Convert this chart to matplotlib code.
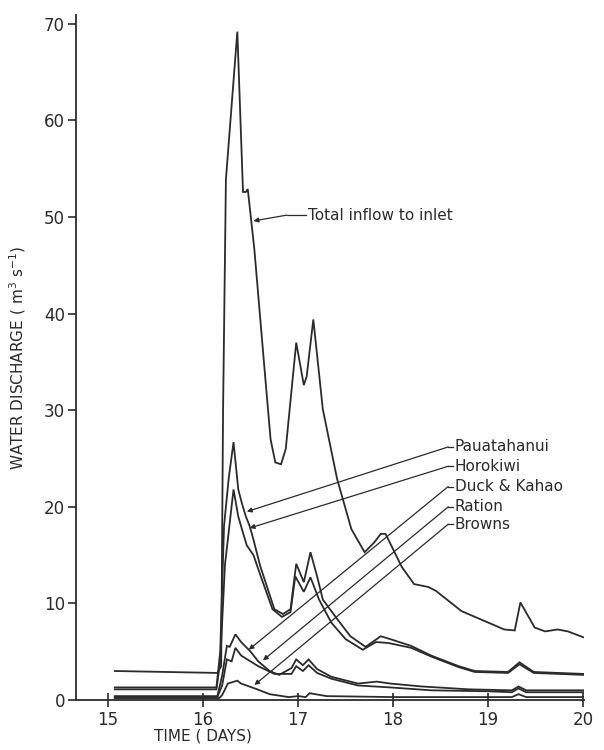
import matplotlib
matplotlib.use('Agg')
import matplotlib.pyplot as plt

# discharge hydrographs, days vs m3/s
total_t = [15.07, 16.15, 16.19, 16.21, 16.24, 16.36, 16.42, 16.45, 16.47, 16.54, 16.64, 16.71, 16.76,
           16.82, 16.87, 16.98, 17.06, 17.09, 17.16, 17.26, 17.41, 17.56, 17.70, 17.80, 17.87,
           17.92, 18.09, 18.22, 18.37, 18.45, 18.72, 19.17, 19.28, 19.34, 19.49, 19.60, 19.73,
           19.84, 20.0]
total_q = [3.0, 2.8, 3.5, 30.0, 53.9, 69.2, 52.6, 52.6, 52.9, 46.6, 35.0, 27.0, 24.6,
           24.4, 26.0, 37.0, 32.6, 33.5, 39.4, 30.1, 22.9, 17.7, 15.3, 16.3, 17.2,
           17.2, 13.8, 12.0, 11.7, 11.3, 9.2, 7.3, 7.2, 10.1, 7.5, 7.1, 7.3,
           7.1, 6.5]

paua_t = [15.07, 16.14, 16.18, 16.22, 16.27, 16.32, 16.37, 16.41, 16.45, 16.49, 16.53, 16.60,
          16.68, 16.75, 16.84, 16.92, 16.98, 17.06, 17.13, 17.20, 17.26, 17.41, 17.55, 17.71,
          17.87, 17.97, 18.19, 18.40, 18.69, 18.86, 19.21, 19.33, 19.48, 20.0]
paua_q = [1.3, 1.3, 5.0, 18.0, 23.0, 26.7, 21.8, 20.3, 19.0, 18.0, 16.6, 13.9,
          11.5, 9.4, 8.9, 9.4, 14.1, 12.2, 15.3, 12.8, 10.4, 8.4, 6.6, 5.5,
          6.6, 6.3, 5.6, 4.6, 3.5, 3.0, 2.9, 3.9, 2.9, 2.7]

horo_t = [15.07, 16.14, 16.18, 16.23, 16.32, 16.37, 16.42, 16.46, 16.53, 16.60, 16.73, 16.83,
          16.92, 16.97, 17.06, 17.13, 17.22, 17.35, 17.50, 17.68, 17.82, 17.95, 18.19, 18.40,
          18.69, 18.86, 19.21, 19.33, 19.48, 20.0]
horo_q = [1.1, 1.1, 4.0, 14.0, 21.8, 19.0, 17.3, 16.0, 15.0, 13.0, 9.4, 8.6,
          9.1, 12.8, 11.2, 12.7, 10.4, 8.0, 6.3, 5.2, 6.0, 5.9, 5.4, 4.5,
          3.4, 2.9, 2.8, 3.7, 2.8, 2.6]

duck_t = [15.07, 16.15, 16.20, 16.25, 16.28, 16.34, 16.40, 16.50, 16.58, 16.70, 16.80, 16.93,
          16.98, 17.05, 17.11, 17.20, 17.35, 17.63, 17.83, 17.97, 18.30, 18.80, 19.25, 19.32,
          19.40, 20.0]
duck_q = [0.4, 0.4, 2.5, 5.6, 5.5, 6.8, 6.0, 5.0, 4.0, 3.0, 2.6, 3.3,
          4.2, 3.6, 4.2, 3.2, 2.4, 1.7, 1.9, 1.7, 1.4, 1.1, 1.0, 1.4,
          1.0, 1.0]

ration_t = [15.07, 16.15, 16.20, 16.25, 16.30, 16.34, 16.40, 16.58, 16.75, 16.93, 16.98, 17.05,
            17.11, 17.20, 17.35, 17.63, 17.97, 18.40, 19.00, 19.25, 19.32, 19.40, 20.0]
ration_q = [0.3, 0.3, 1.5, 4.2, 4.0, 5.4, 4.6, 3.5, 2.7, 2.7, 3.5, 3.0,
            3.6, 2.8, 2.2, 1.5, 1.3, 1.0, 0.9, 0.8, 1.2, 0.8, 0.8]

browns_t = [15.07, 16.17, 16.20, 16.26, 16.36, 16.40, 16.57, 16.70, 16.90, 17.00, 17.08, 17.12,
            17.30, 18.00, 19.25, 19.32, 19.40, 20.0]
browns_q = [0.2, 0.2, 0.5, 1.7, 2.0, 1.7, 1.1, 0.6, 0.3, 0.4, 0.3, 0.7,
            0.4, 0.3, 0.3, 0.6, 0.3, 0.3]

# label text, arrow tip, bend point (label lines run tip -> bend -> text)
labels = ['Total inflow to inlet', 'Pauatahanui', 'Horokiwi', 'Duck & Kahao', 'Ration', 'Browns']
tips = [(16.53, 49.6), (16.46, 19.5), (16.49, 17.8), (16.48, 5.2), (16.63, 4.1), (16.54, 1.55)]
bends = [(16.88, 50.2), (18.58, 26.2), (18.58, 24.2), (18.58, 22.1), (18.58, 20.0), (18.58, 18.2)]
text_x = [17.08, 18.63, 18.63, 18.63, 18.63, 18.63]

ink = '#2b2b2b'
plt.rcParams['font.family'] = ['DejaVu Sans']

fig = plt.figure(figsize=(6.04, 7.5), dpi=100)
ax = fig.add_axes([0.126, 0.0667, 0.841, 0.913])

for t, q in [(total_t, total_q), (paua_t, paua_q), (horo_t, horo_q),
             (duck_t, duck_q), (ration_t, ration_q), (browns_t, browns_q)]:
    ax.plot(t, q, color=ink, lw=1.3, solid_joinstyle='miter')

for lab, tip, bend, tx in zip(labels, tips, bends, text_x):
    ax.annotate('', xy=tip, xytext=bend,
                arrowprops=dict(arrowstyle='-|>', color=ink, lw=0.9, mutation_scale=7,
                                shrinkA=0, shrinkB=0))
    ax.plot([bend[0], tx], [bend[1], bend[1]], color=ink, lw=0.9)
    ax.text(tx + 0.02, bend[1], lab, fontsize=11, color=ink, va='center', ha='left')

ax.set_xlim(14.663, 20.01)
ax.set_ylim(0, 70.9)
ax.set_xticks([15, 16, 17, 18, 19, 20])
ax.set_yticks(range(0, 71, 10))
ax.spines['top'].set_visible(False)
ax.spines['right'].set_visible(False)
for s in ['left', 'bottom']:
    ax.spines[s].set_color(ink)
    ax.spines[s].set_linewidth(1.3)
ax.tick_params(axis='y', direction='out', length=6, width=1.2, colors=ink, labelsize=12, pad=2)
ax.tick_params(axis='x', direction='inout', length=10, width=1.2, colors=ink, labelsize=12, pad=3)

ax.set_xlabel('TIME ( DAYS)', fontsize=11, color=ink)
ax.xaxis.set_label_coords(0.25, -0.042)
ax.set_ylabel('WATER DISCHARGE ( m$^3$ s$^{-1}$)', fontsize=11, color=ink)
ax.yaxis.set_label_coords(-0.095, 0.5)

plt.savefig('out.png', dpi=100)
